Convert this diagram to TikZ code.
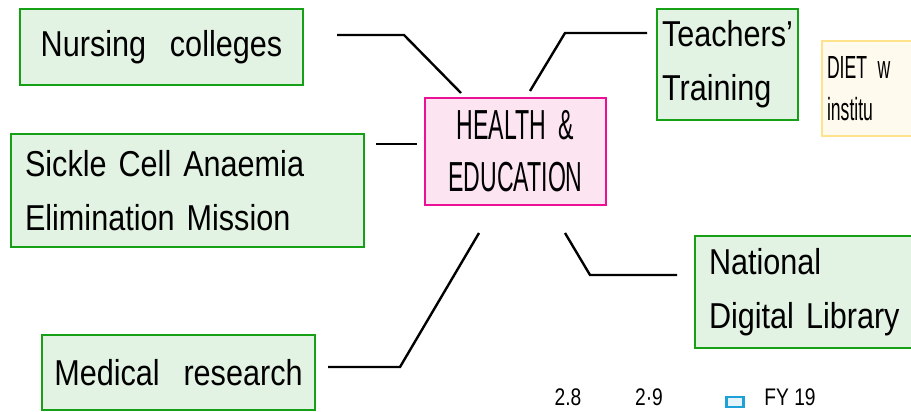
\documentclass[tikz,border=0pt]{standalone}
\usepackage{fontspec}
\setmainfont{Liberation Sans}[FakeStretch=0.85, WordSpace=2.8]
\newfontfamily\capsfont{Liberation Sans}[FakeStretch=0.55, WordSpace=2.0]
\newfontfamily\tickfont{Liberation Sans}[FakeStretch=0.8]
\usepackage{xcolor}
\usetikzlibrary{calc}
\definecolor{boxgreen}{RGB}{22,160,22}
\definecolor{fillgreen}{RGB}{227,243,227}
\definecolor{boxpink}{RGB}{236,16,150}
\definecolor{fillpink}{RGB}{252,228,240}
\definecolor{boxyellow}{RGB}{255,226,140}
\definecolor{fillyellow}{RGB}{255,250,238}
\definecolor{keyblue}{RGB}{30,160,216}
\definecolor{fillblue}{RGB}{228,244,250}

\begin{document}
\begin{tikzpicture}[x=1pt, y=-1pt,
  topic/.style={draw=boxgreen, fill=fillgreen, line width=2.6pt, inner sep=0pt,
    font=\fontsize{36}{54}\selectfont},
  hub/.style={draw=boxpink, fill=fillpink, line width=2.6pt, inner sep=0pt, align=center,
    font=\capsfont\fontsize{42}{52}\selectfont},
  note/.style={draw=boxyellow, fill=fillyellow, line width=2.6pt, inner sep=0pt,
    font=\capsfont\fontsize{32}{42}\selectfont},
  link/.style={black, line width=2.4pt},
  tick/.style={font=\tickfont\fontsize{24}{28}\selectfont, anchor=base, inner sep=0pt}]
  \useasboundingbox (0,0) rectangle (911,412);
  \clip (0,0) rectangle (911,412);
  % Centre
  \node[hub, minimum width=181, minimum height=107] (health) at (515.5,151.5) {HEALTH \&\\EDUCATION};
  % Left branches
  \node[topic, minimum width=283, minimum height=76] (nursing) at (161.5,47) {Nursing colleges};
  \node[topic, minimum width=353, minimum height=113, text width=325, align=left] (sickle) at (187.5,190.5) {Sickle Cell Anaemia\\Elimination Mission};
  \node[topic, minimum width=273, minimum height=75] (medical) at (178.5,372.5) {Medical research};
  % Right branches
  \node[topic, minimum width=141, minimum height=111, text width=131, align=left] (teachers) at (727.5,64.5) {Teachers'\\Training};
  \node[note, minimum width=200, minimum height=95, text width=190, align=left] (diet) at (922,88.5) {DIET w\\institu};
  \node[topic, minimum width=260, minimum height=112, text width=232, align=left] (library) at (825,292) {National\\Digital Library};
  % Free ends of the connectors
  \coordinate (nc1) at (337,35);  \coordinate (nc2) at (404,35);  \coordinate (nc3) at (461,93);
  \coordinate (sc1) at (376,144); \coordinate (sc2) at (417,144);
  \coordinate (mc1) at (328,367); \coordinate (mc2) at (400,367); \coordinate (mc3) at (479,233);
  \coordinate (tc1) at (530,91);  \coordinate (tc2) at (565,33);  \coordinate (tc3) at (647,33);
  \coordinate (lc1) at (565,233); \coordinate (lc2) at (590,275); \coordinate (lc3) at (677,275);
  \draw[link] (nc1) -- (nc2) -- (nc3);
  \draw[link] (sc1) -- (sc2);
  \draw[link] (mc1) -- (mc2) -- (mc3);
  \draw[link] (tc1) -- (tc2) -- (tc3);
  \draw[link] (lc1) -- (lc2) -- (lc3);
  % Axis ticks and key at the bottom
  \node[tick] (t28) at (568,405) {2.8};
  \node[tick] (t29) at (649,405) {2·9};
  \node[draw=keyblue, fill=fillblue, line width=2.2pt, minimum width=17, minimum height=10, inner sep=0pt] (key) at (735,402) {};
  \node[tick] (fy) at (790,405) {FY 19};
\end{tikzpicture}
\end{document}
